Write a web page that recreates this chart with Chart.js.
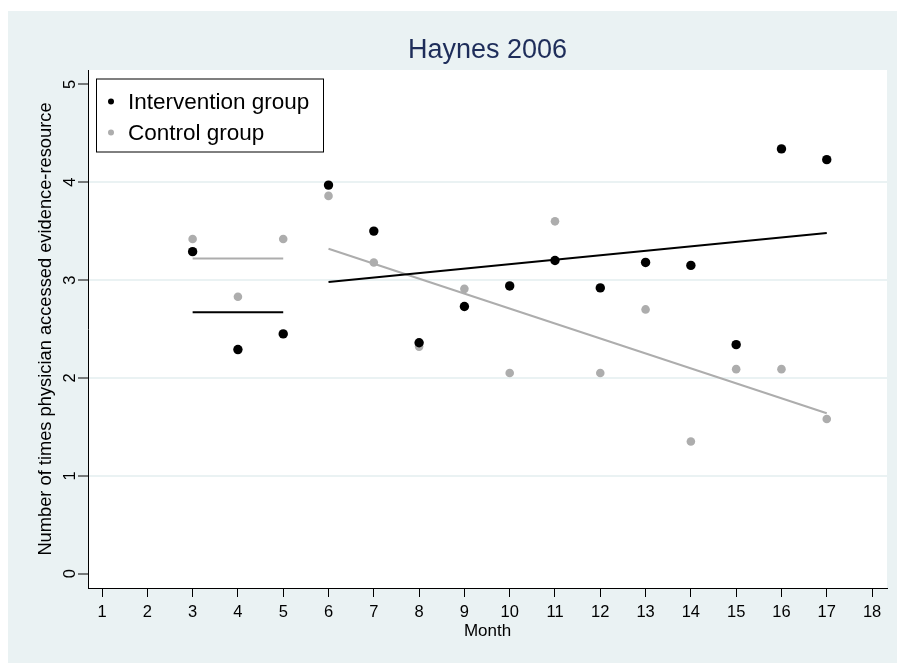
<!DOCTYPE html>
<html>
<head>
<meta charset="utf-8">
<title>Haynes 2006</title>
<script src="https://cdn.jsdelivr.net/npm/chart.js@4/dist/chart.umd.min.js"></script>
<style>
  html, body { margin: 0; padding: 0; background: #ffffff; }
  #wrap { width: 897px; height: 663px; }
  canvas { display: block; }
</style>
</head>
<body>
<div id="wrap"><canvas id="chart" width="897" height="663"></canvas></div>
<script>
// Monthly mean number of times a physician accessed the evidence resource
const months = [3, 4, 5, 6, 7, 8, 9, 10, 11, 12, 13, 14, 15, 16, 17];
const interventionGroup = [3.29, 2.29, 2.45, 3.97, 3.50, 2.36, 2.73, 2.94, 3.20, 2.92, 3.18, 3.15, 2.34, 4.34, 4.23];
const controlGroup      = [3.42, 2.83, 3.42, 3.86, 3.18, 2.32, 2.91, 2.05, 3.60, 2.05, 2.70, 1.35, 2.09, 2.09, 1.58];

// Baseline means (months 3-5) and fitted trends (months 6-17)
const baselineMonths = [3, 5];
const interventionBaseline = [2.67, 2.67];
const controlBaseline = [3.22, 3.22];
const trendMonths = [6, 17];
const interventionTrend = [2.98, 3.48];
const controlTrend = [3.32, 1.64];

// Axis ticks
const xTicks = [1, 2, 3, 4, 5, 6, 7, 8, 9, 10, 11, 12, 13, 14, 15, 16, 17, 18];
const yTicks = [0, 1, 2, 3, 4, 5];

const chartTitle = 'Haynes 2006';
const seriesNames = ['Intervention group', 'Control group'];

const FONT = '"Liberation Sans", Arial, Helvetica, sans-serif';
const BLACK = '#000000';
const GREY = '#adadad';
const BG = '#eaf2f3';

const pairs = (xs, ys) => xs.map((x, i) => ({ x: x, y: ys[i] }));

// Light-blue page backdrop with a white plot region
const backdrop = {
  id: 'backdrop',
  beforeDraw(chart) {
    const { ctx, width, height, chartArea: a } = chart;
    ctx.save();
    ctx.fillStyle = '#ffffff';
    ctx.fillRect(0, 0, width, height);
    ctx.fillStyle = BG;
    ctx.fillRect(8, 11, width - 8, height - 11);
    ctx.fillStyle = '#ffffff';
    ctx.fillRect(a.left, a.top, a.right - a.left, a.bottom - a.top);
    ctx.restore();
  }
};

// Title centred over the plot region
const plotTitle = {
  id: 'plotTitle',
  afterDraw(chart) {
    const { ctx, chartArea: a } = chart;
    ctx.save();
    ctx.font = '27px ' + FONT;
    ctx.fillStyle = '#1e2d5a';
    ctx.textAlign = 'center';
    ctx.textBaseline = 'middle';
    ctx.fillText(chartTitle, (a.left + a.right) / 2, a.top - 19.5);
    ctx.restore();
  }
};

// Boxed legend in the upper-left corner of the plot
const boxLegend = {
  id: 'boxLegend',
  afterDatasetsDraw(chart) {
    const { ctx, chartArea: a } = chart;
    const left = a.left + 8, top = a.top + 8.5, w = 228, h = 74;
    ctx.save();
    ctx.fillStyle = '#ffffff';
    ctx.fillRect(left, top, w, h);
    ctx.strokeStyle = '#000000';
    ctx.lineWidth = 1;
    ctx.strokeRect(left + 0.5, top + 0.5, w - 1, h - 1);
    const entries = [
      { label: seriesNames[0], color: BLACK },
      { label: seriesNames[1], color: GREY }
    ];
    ctx.font = '22.5px ' + FONT;
    ctx.textBaseline = 'middle';
    ctx.textAlign = 'left';
    entries.forEach((e, i) => {
      const cy = top + 23 + i * 31;
      ctx.fillStyle = e.color;
      ctx.beginPath();
      ctx.arc(left + 15, cy, 3, 0, Math.PI * 2);
      ctx.fill();
      ctx.fillStyle = '#000000';
      ctx.fillText(e.label, left + 32, cy + 1);
    });
    ctx.restore();
  }
};

new Chart(document.getElementById('chart'), {
  type: 'scatter',
  data: {
    datasets: [
      {
        type: 'line', label: 'Intervention trend', data: pairs(trendMonths, interventionTrend),
        borderColor: BLACK, borderWidth: 2, pointRadius: 0, fill: false, order: 0
      },
      {
        type: 'line', label: 'Intervention baseline', data: pairs(baselineMonths, interventionBaseline),
        borderColor: BLACK, borderWidth: 2, pointRadius: 0, fill: false, order: 1
      },
      {
        type: 'line', label: 'Control trend', data: pairs(trendMonths, controlTrend),
        borderColor: GREY, borderWidth: 2, pointRadius: 0, fill: false, order: 2
      },
      {
        type: 'line', label: 'Control baseline', data: pairs(baselineMonths, controlBaseline),
        borderColor: GREY, borderWidth: 2, pointRadius: 0, fill: false, order: 3
      },
      {
        label: seriesNames[0], data: pairs(months, interventionGroup),
        backgroundColor: BLACK, borderColor: BLACK, borderWidth: 0, pointRadius: 4.7, order: 4
      },
      {
        label: seriesNames[1], data: pairs(months, controlGroup),
        backgroundColor: GREY, borderColor: GREY, borderWidth: 0, pointRadius: 4.3, order: 5
      }
    ]
  },
  options: {
    responsive: false,
    animation: false,
    devicePixelRatio: 1,
    events: [],
    layout: { padding: { left: 0, right: 10, top: 70, bottom: 0 } },
    plugins: {
      legend: { display: false },
      tooltip: { enabled: false },
      title: { display: false }
    },
    scales: {
      x: {
        type: 'linear',
        min: 0.69,
        max: 18.33,
        afterBuildTicks: s => { s.ticks = xTicks.map(v => ({ value: v })); },
        afterFit: s => { s.height = 75; },
        grid: {
          display: true, drawOnChartArea: false, drawTicks: true,
          tickLength: 9, tickColor: '#000000', tickWidth: 1
        },
        border: { display: true, color: '#000000', width: 1 },
        ticks: {
          color: '#000000', padding: 6, maxRotation: 0, autoSkip: false,
          font: { family: FONT, size: 16.5 },
          callback: v => String(v)
        },
        title: {
          display: true, text: 'Month', color: '#000000',
          font: { family: FONT, size: 17 },
          padding: { top: 0, bottom: 21 }
        }
      },
      y: {
        type: 'linear',
        min: -0.146,
        max: 5.146,
        afterBuildTicks: s => { s.ticks = yTicks.map(v => ({ value: v })); },
        afterFit: s => { s.width = 88; },
        grid: {
          display: true, drawOnChartArea: true, drawTicks: true,
          color: ctx => (ctx.tick && (ctx.tick.value === 0 || ctx.tick.value === 5)) ? 'rgba(0,0,0,0)' : BG,
          lineWidth: 2,
          tickLength: 10, tickColor: '#000000', tickWidth: 1
        },
        border: { display: true, color: '#000000', width: 1 },
        ticks: {
          color: '#000000', padding: 2.5, minRotation: 90, maxRotation: 90,
          crossAlign: 'center', autoSkip: false,
          font: { family: FONT, size: 16.5 },
          callback: v => String(v)
        },
        title: {
          display: true, text: 'Number of times physician accessed evidence-resource',
          color: '#000000',
          font: { family: FONT, size: 18.3 },
          padding: { top: 35, bottom: 0 }
        }
      }
    }
  },
  plugins: [backdrop, plotTitle, boxLegend]
});
</script>
</body>
</html>
